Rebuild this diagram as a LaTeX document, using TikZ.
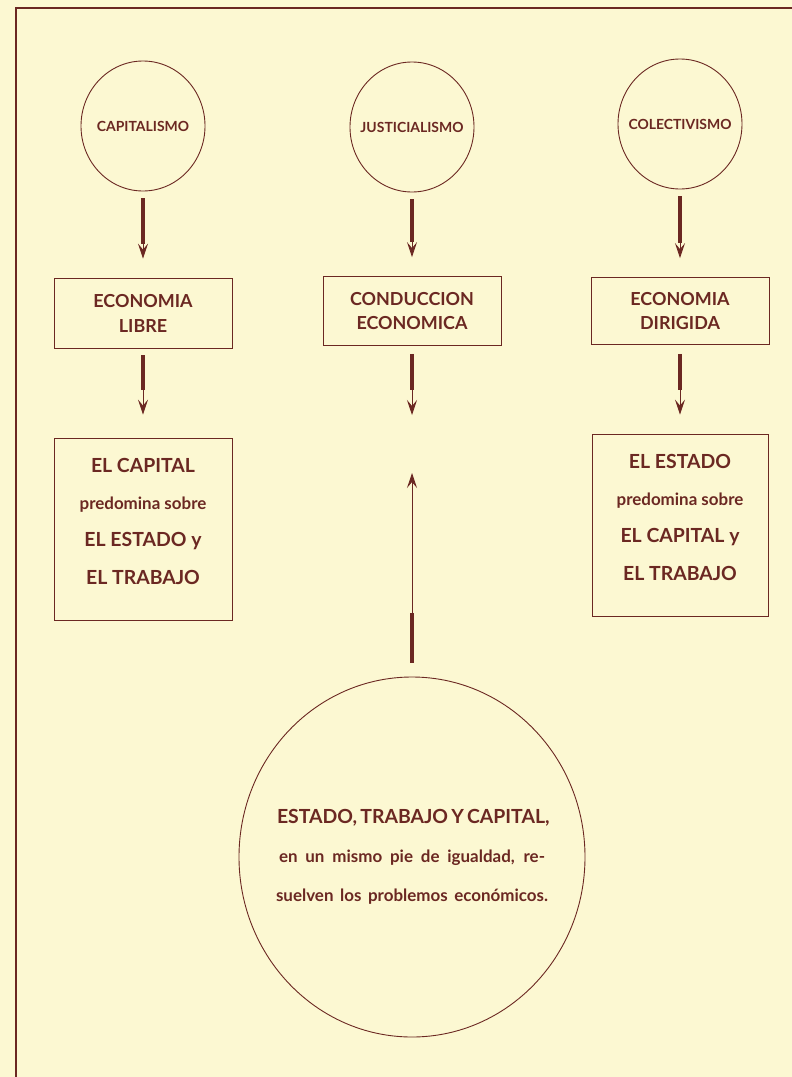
\documentclass[tikz,border=0pt]{standalone}
\usepackage{fontspec}
\setmainfont{Lato}
\usetikzlibrary{shapes.geometric,arrows.meta}
\definecolor{tinta}{HTML}{6B2822}
\definecolor{papel}{HTML}{FCF8D2}
\newcommand\letgran{\bfseries\fontsize{19.5}{37}\selectfont}
\newcommand\letchica{\bfseries\fontsize{17}{37}\selectfont}

\begin{document}
\begin{tikzpicture}[x=1bp,y=-1bp,
    ovalo/.style={ellipse,draw=tinta,line width=0.9pt,inner ysep=0pt,inner xsep=-30bp,
      minimum width=124bp,minimum height=130bp,text=tinta,
      font=\bfseries\fontsize{14}{17}\selectfont},
    caja/.style={draw=tinta,line width=0.8pt,inner sep=0pt,text=tinta,
      align=center,minimum width=178bp,
      font=\bfseries\fontsize{18}{25}\selectfont},
    cajona/.style={caja,minimum height=182bp,text depth=16bp,
      font=\fontsize{18}{37.5}\selectfont}]
  \tikzstyle{flecha}=[draw=tinta,line width=0.9pt,
    -{Stealth[length=15bp,width=10bp,inset=6bp]}]
  \tikzstyle{grueso}=[draw=tinta,line width=3.4pt]

  \fill[papel] (0,0) rectangle (792,1077);
  \useasboundingbox (0,0) rectangle (792,1077);
  \draw[tinta,line width=1.1pt] (16,1077) -- (16,8) -- (792,8);

  % doctrinas
  \node[ovalo] (capitalismo) at (143,126) {CAPITALISMO};
  \node[ovalo] (justicialismo) at (412,127) {JUSTICIALISMO};
  \node[ovalo] (colectivismo) at (680,124) {COLECTIVISMO};

  % economias
  \node[caja,minimum height=70bp] (libre) at (143,313) {ECONOMIA\\LIBRE};
  \node[caja,minimum width=178bp,minimum height=69bp] (conduccion) at (412,311)
    {CONDUCCION\\ECONOMICA};
  \node[caja,minimum height=67bp] (dirigida) at (680,311) {ECONOMIA\\DIRIGIDA};

  % resultados
  \node[cajona] (capital) at (143,529)
    {\letgran EL CAPITAL\\\letchica predomina sobre\\\letgran EL ESTADO y\\\letgran EL TRABAJO};
  \node[cajona,minimum width=176bp] (estado) at (680,525)
    {\letgran EL ESTADO\\\letchica predomina sobre\\\letgran EL CAPITAL y\\\letgran EL TRABAJO};

  \node[ovalo,minimum width=346bp,minimum height=360bp] (igualdad) at (412,857) {};
  \node[text=tinta,align=center,inner sep=0pt,font=\fontsize{16}{39}\selectfont]
    (lema) at (igualdad.center)
    {\makebox[270bp][s]{\letgran ESTADO, TRABAJO Y CAPITAL,}\\
     \makebox[266bp][s]{\letchica en un mismo pie de igualdad, re-}\\
     \makebox[272bp][s]{\letchica suelven los problemos económicos.}};

  \coordinate (fin) at (412,415);
  \coordinate (meta) at (412,473);

  % flechas
  \draw[grueso,shorten <=7bp,shorten >=34bp] (capitalismo) -- (libre);
  \draw[flecha,shorten <=7bp,shorten >=19bp] (capitalismo) -- (libre);
  \draw[grueso,shorten <=7bp,shorten >=34bp] (justicialismo) -- (conduccion);
  \draw[flecha,shorten <=7bp,shorten >=19bp] (justicialismo) -- (conduccion);
  \draw[grueso,shorten <=7bp,shorten >=34bp] (colectivismo) -- (dirigida);
  \draw[flecha,shorten <=7bp,shorten >=19bp] (colectivismo) -- (dirigida);

  \draw[grueso,shorten <=7bp,shorten >=48bp] (libre) -- (capital);
  \draw[flecha,shorten <=7bp,shorten >=23bp] (libre) -- (capital);
  \draw[grueso,shorten <=8bp,shorten >=25bp] (conduccion) -- (fin);
  \draw[flecha,shorten <=8bp] (conduccion) -- (fin);
  \draw[grueso,shorten <=9bp,shorten >=44bp] (dirigida) -- (estado);
  \draw[flecha,shorten <=9bp,shorten >=19bp] (dirigida) -- (estado);

  \draw[grueso,shorten <=14bp,shorten >=140bp] (igualdad) -- (meta);
  \draw[flecha,shorten <=14bp] (igualdad) -- (meta);
\end{tikzpicture}
\end{document}
